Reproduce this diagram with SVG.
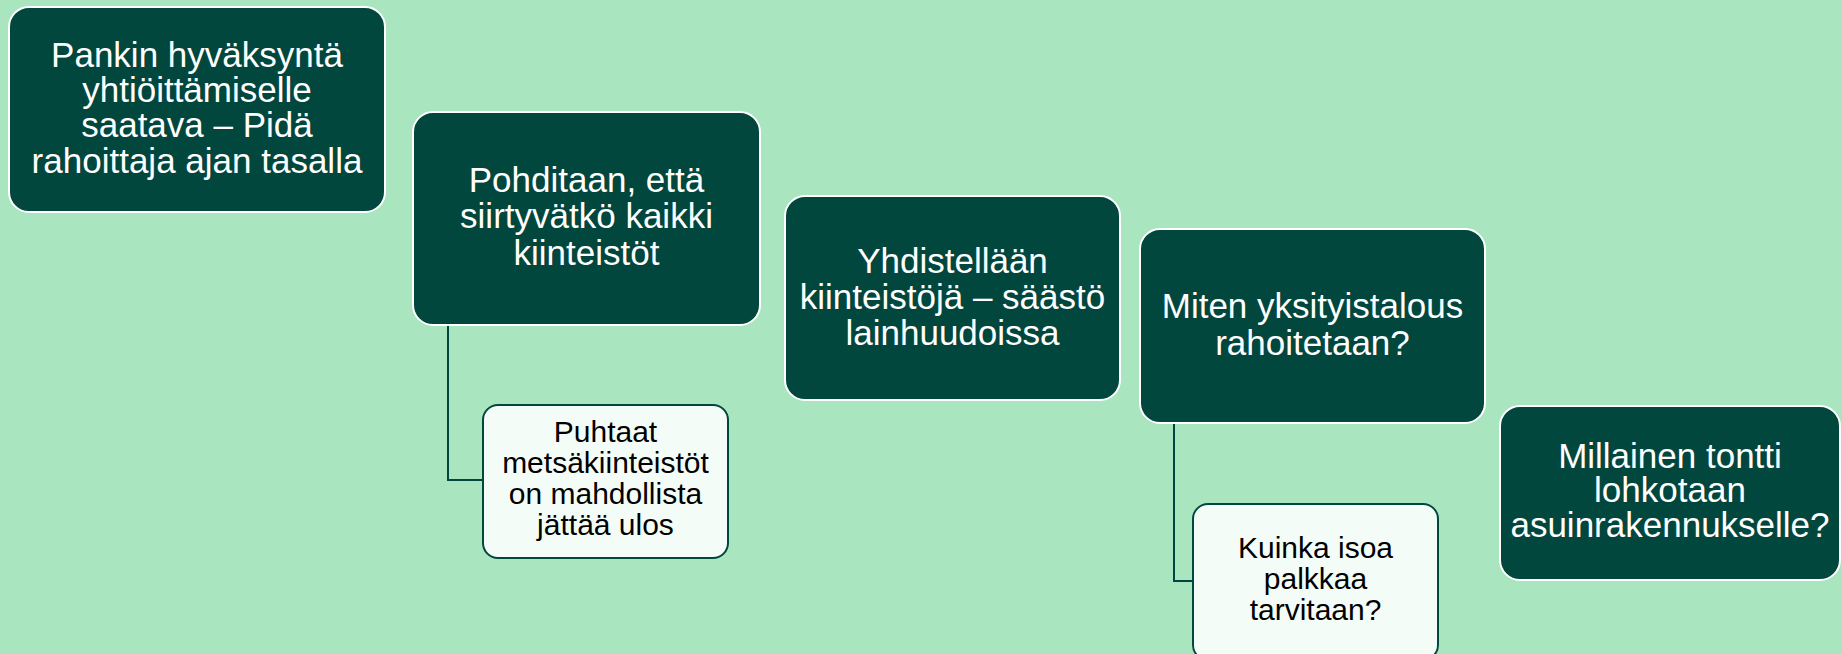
<svg xmlns="http://www.w3.org/2000/svg" width="1842" height="654" viewBox="0 0 1842 654">
<style>
.main{fill:#02473E;stroke:#FFFFFF;stroke-width:2}
.sub{fill:#F4FCF7;stroke:#02473E;stroke-width:2}
.mt{font-family:"Liberation Sans",Arial,sans-serif;font-size:35px;fill:#FFFFFF;text-anchor:middle}
.st{font-family:"Liberation Sans",Arial,sans-serif;font-size:30px;fill:#000000;text-anchor:middle}
.conn{fill:none;stroke:#02473E;stroke-width:2}
</style>
<rect width="1842" height="654" fill="#A9E5BE"/>
<g id="connectors">
<path class="conn" d="M448,325 V480 H483"/>
<path class="conn" d="M1174,423 V581 H1193"/>
</g>
<g id="node1">
<rect class="main" x="9" y="7" width="376" height="205" rx="20"/>
<text class="mt"><tspan x="197" y="67">Pankin hyväksyntä</tspan><tspan x="197" y="102">yhtiöittämiselle</tspan><tspan x="197" y="137">saatava – Pidä</tspan><tspan x="197" y="173">rahoittaja ajan tasalla</tspan></text>
</g>
<g id="node2">
<rect class="main" x="413" y="112" width="347" height="213" rx="20"/>
<text class="mt"><tspan x="586.5" y="192">Pohditaan, että</tspan><tspan x="586.5" y="228">siirtyvätkö kaikki</tspan><tspan x="586.5" y="265">kiinteistöt</tspan></text>
</g>
<g id="node2a">
<rect class="sub" x="483" y="405" width="245" height="153" rx="15"/>
<text class="st"><tspan x="605.5" y="442">Puhtaat</tspan><tspan x="605.5" y="473">metsäkiinteistöt</tspan><tspan x="605.5" y="504">on mahdollista</tspan><tspan x="605.5" y="535">jättää ulos</tspan></text>
</g>
<g id="node3">
<rect class="main" x="785" y="196" width="335" height="204" rx="20"/>
<text class="mt"><tspan x="952.5" y="273">Yhdistellään</tspan><tspan x="952.5" y="309">kiinteistöjä – säästö</tspan><tspan x="952.5" y="345">lainhuudoissa</tspan></text>
</g>
<g id="node4">
<rect class="main" x="1140" y="229" width="345" height="194" rx="20"/>
<text class="mt"><tspan x="1312.5" y="318">Miten yksityistalous</tspan><tspan x="1312.5" y="355">rahoitetaan?</tspan></text>
</g>
<g id="node4a">
<rect class="sub" x="1193" y="504" width="245" height="156" rx="15"/>
<text class="st"><tspan x="1315.5" y="558">Kuinka isoa</tspan><tspan x="1315.5" y="589">palkkaa</tspan><tspan x="1315.5" y="620">tarvitaan?</tspan></text>
</g>
<g id="node5">
<rect class="main" x="1500" y="406" width="340" height="174" rx="20"/>
<text class="mt"><tspan x="1670" y="468">Millainen tontti</tspan><tspan x="1670" y="502">lohkotaan</tspan><tspan x="1670" y="537">asuinrakennukselle?</tspan></text>
</g>
</svg>
